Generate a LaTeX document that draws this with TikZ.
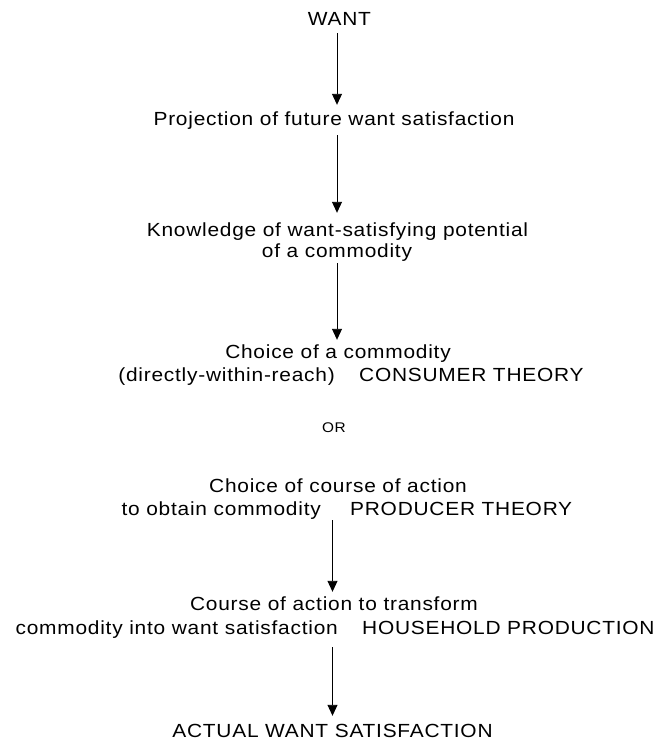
\documentclass[tikz,border=0pt]{standalone}
\usepackage{fontspec}
\setmainfont{Liberation Sans}[FakeStretch=1.1, LetterSpace=4]
\usetikzlibrary{arrows.meta}
\begin{document}
\begin{tikzpicture}[x=1pt,y=-1pt,
  txt/.style={inner sep=0pt, anchor=base, text height=13.6pt, text depth=4pt,
    font=\fontsize{19}{22}\selectfont},
  small/.style={inner sep=0pt, anchor=base, font=\fontsize{14}{16}\selectfont},
  flow/.style={line width=0.9pt, -{Triangle[width=10pt,length=11pt]}}]
\useasboundingbox (0,0) rectangle (662,742);
% stages, top to bottom
\node[txt] (want) at (339.5,25) {WANT};
\node[txt] (proj) at (334,125) {Projection of future want satisfaction};
\node[txt] (know1) at (337.5,236) {Knowledge of want-satisfying potential};
\node[txt] (know2) at (337,257) {of a commodity};
\node[txt] (cc1) at (338,358) {Choice of a commodity};
\node[txt, anchor=base east] (cc2) at (335,381) {(directly-within-reach)};
\node[txt, anchor=base west] (consumer) at (359,381) {CONSUMER THEORY};
\node[small] (or) at (334,432) {OR};
\node[txt] (po1) at (338,492) {Choice of course of action};
\node[txt, anchor=base east] (po2) at (321,515) {to obtain commodity};
\node[txt, anchor=base west] (producer) at (350,515) {PRODUCER THEORY};
\node[txt] (ct1) at (334,610) {Course of action to transform};
\node[txt, anchor=base east] (ct2) at (338,634) {commodity into want satisfaction};
\node[txt, anchor=base west] (household) at (362,634) {HOUSEHOLD PRODUCTION};
\node[txt] (actual) at (332.5,737) {ACTUAL WANT SATISFACTION};
% arrows
\draw[flow, shorten <=4pt, shorten >=6.4pt] (want.south -| know2) -- (proj.north -| know2);
\draw[flow, shorten <=6pt, shorten >=9.4pt] (proj.south -| know2) -- (know1.north -| know2);
\draw[flow, shorten <=2pt, shorten >=4.4pt] (know2.south) -- (cc1.north -| know2);
\draw[flow, shorten <=1pt, shorten >=4.4pt] (po2.south -| actual) -- (ct1.north -| actual);
\draw[flow, shorten <=9pt, shorten >=7.4pt] (ct2.south -| actual) -- (actual.north);
\end{tikzpicture}
\end{document}
